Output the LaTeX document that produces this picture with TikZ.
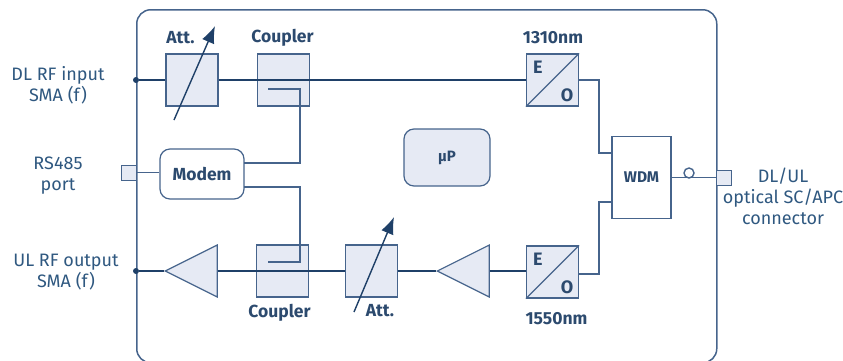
\documentclass[tikz,border=0pt]{standalone}
\usepackage{fontspec}
\setmainfont{Fira Sans}
\definecolor{navy1}{HTML}{2C4A6E}
\definecolor{navy2}{HTML}{2F5880}
\definecolor{line1}{HTML}{1F4068}
\definecolor{edge1}{HTML}{46648C}
\definecolor{panelbg}{HTML}{E6EAF4}
\usetikzlibrary{shapes.geometric, arrows.meta, positioning, calc}

\begin{document}
\begin{tikzpicture}[
  x=1pt, y=-1pt,
  block/.style = {draw=edge1, fill=panelbg, line width=1.2pt,
                   minimum width=52pt, minimum height=52pt, inner sep=0pt},
  amp/.style   = {draw=edge1, fill=panelbg, line width=1.2pt, isosceles triangle,
                   isosceles triangle apex angle=54, shape border rotate=180,
                   isosceles triangle stretches, minimum width=52pt, minimum height=52pt,
                   inner sep=0pt, anchor=apex},
  roundbox/.style = {draw=edge1, line width=1.2pt, rounded corners=10pt, inner sep=0pt,
                   font=\fontsize{17.5}{20}\selectfont\bfseries, text=navy1},
  port/.style  = {draw=edge1, fill=panelbg, line width=1pt, minimum size=15pt, inner sep=0pt},
  frm/.style   = {draw=edge1, line width=1.5pt, rounded corners=14pt, anchor=north west,
                   minimum width=580pt, minimum height=353pt},
  lbl/.style   = {font=\fontsize{18}{21}\selectfont, text=navy2, align=center, inner sep=0pt},
  head/.style  = {font=\fontsize{17.5}{20}\selectfont\bfseries, text=navy1, inner sep=0pt},
  eo/.style    = {font=\fontsize{18}{20}\selectfont\bfseries, text=navy1, inner sep=0pt},
  sig/.style   = {draw=line1, line width=1.5pt},
  tap/.style   = {draw=edge1, line width=1.2pt},
  tune/.style  = {-{Latex[length=17pt,width=13pt]}, draw=line1, line width=1.4pt},
  dot/.style   = {circle, fill=line1, minimum size=6pt, inner sep=0pt}
]
\useasboundingbox (0,0) rectangle (843,360);
\clip (0,0) rectangle (843,360);

\node[frm] (frame) at (136,9) {};

% downlink row
\node[dot]   (dlin) at (136,80) {};
\node[block] (att1) at (192,80) {};
\node[block, right=38pt of att1] (cpl1) {};
\node[block] (eo1)  at (552.5,80) {};
% uplink row
\node[dot]   (ulout) at (136,271) {};
\node[amp]   (amp1)  at (164,271) {};
\node[block] (cpl2)  at (282.5,271) {};
\node[block, right=36pt of cpl2] (att2) {};
\node[amp]   (amp2)  at (436,271) {};
\node[block] (eo2)   at (552.5,272) {};
% middle
\node[roundbox, minimum width=84pt, minimum height=50pt] (mdm) at (202,174) {Modem};
\node[roundbox, fill=panelbg, minimum width=86pt, minimum height=57pt,
      font=\fontsize{15}{17}\selectfont\bfseries] (mup) at (447,157.5) {µP};
\node[draw=edge1, line width=1.5pt, minimum width=59pt, minimum height=82pt, inner sep=0pt,
      font=\fontsize{15.5}{18}\selectfont\bfseries, text=navy1] (wdm) at (641.5,177.5) {WDM};
\node[port] (rs)   at (128.5,172.5) {};
\node[port] (conn) at (723.5,177.5) {};
\node[circle, draw=edge1, line width=1.4pt, minimum size=10pt, inner sep=0pt] (loop) at (689,173) {};

\coordinate (tapa) at (268,89);
\coordinate (tapb) at (268,262);
\coordinate (mdma) at (244,163);
\coordinate (mdmb) at (244,187);
\coordinate (wdma) at (612,153);
\coordinate (wdmb) at (612,202);
\coordinate (eoa)  at (579,80);
\coordinate (eob)  at (579,274);

% signal paths
\draw[sig] (dlin) -- (att1.west);
\draw[sig] (att1.east) -- (eo1.west);
\draw[sig] (ulout) -- (amp1.apex);
\draw[sig] (amp1.east) -- (att2.west);
\draw[sig] (att2.east) -- (amp2.apex);
\draw[sig] (amp2.east) -- (eo2.west |- amp2.east);
\draw[tap] (rs.east) -- (rs.east -| mdm.west);
\draw[tap] (tapa) -- ++(32,0) |- (mdma);
\draw[tap] (tapb) -- ++(32,0) |- (mdmb);
\draw[tap] (eoa) -- ++(20,0) |- (wdma);
\draw[tap] (eob) -- ++(20,0) |- (wdmb);
\draw[tap] (wdm.east) -- (conn.west);

% E/O diagonals
\foreach \n in {eo1, eo2} {
  \draw[tap] (\n.south west) -- (\n.north east);
  \node[eo] at ($(\n.north west)+(12,14)$) {E};
  \node[eo] at ($(\n.south east)+(-12,-11)$) {O};
}

% variable attenuators
\coordinate (t1a) at (174,120);
\coordinate (t1b) at (215,26);
\coordinate (t2a) at (354,312);
\coordinate (t2b) at (394,217);
\draw[tune] (t1a) -- (t1b);
\draw[tune] (t2a) -- (t2b);

\node[head] (latt1) at (180.5,38)  {Att.};
\node[head] (lcpl1) at (282.5,38)  {Coupler};
\node[head] (l1310) at (553,38)    {1310nm};
\node[head] (lcpl2) at (279.5,313) {Coupler};
\node[head] (latt2) at (380,311)   {Att.};
\node[head] (l1550) at (556.5,319) {1550nm};

\node[lbl] (ldl)  at (58,85.5)  {DL RF input\\SMA (f)};
\node[lbl] (lrs)  at (58,176)   {RS485\\port};
\node[lbl] (lul)  at (66,272.5) {UL RF output\\SMA (f)};
\node[lbl] (lopt) at (783,196.5) {DL/UL\\optical SC/APC\\connector};
\end{tikzpicture}
\end{document}
